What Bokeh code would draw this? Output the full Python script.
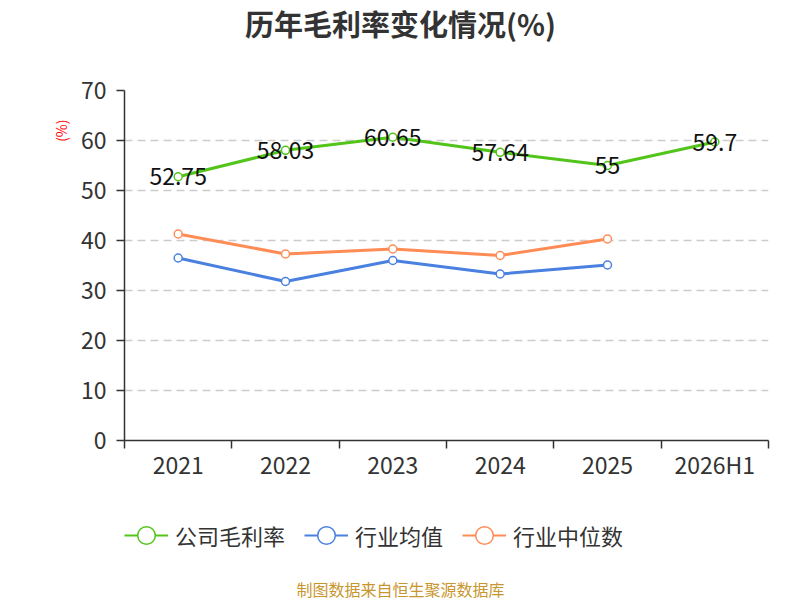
from bokeh.plotting import figure
from bokeh.models import (Range1d, FixedTicker, Legend, LegendItem, ColumnDataSource, Title, Label)
from bokeh.layouts import column
from bokeh.core.properties import value
from bokeh.embed import file_html
from bokeh.resources import INLINE

categories = ["2021", "2022", "2023", "2024", "2025", "2026H1"]
company = [52.75, 58.03, 60.65, 57.64, 55.0, 59.7]
company_labels = ["52.75", "58.03", "60.65", "57.64", "55", "59.7"]
industry_avg = [36.5, 31.8, 36.0, 33.3, 35.1]
industry_median = [41.3, 37.3, 38.3, 37.0, 40.3]
y_ticks = [0, 10, 20, 30, 40, 50, 60, 70]

title_text = "历年毛利率变化情况(%)"
source_text = "制图数据来自恒生聚源数据库"
series_names = ["公司毛利率", "行业均值", "行业中位数"]
colors = ["#52c41a", "#4a80e0", "#ff8c55"]

FONT = "Noto Sans CJK SC"

xs = [i + 0.5 for i in range(len(categories))]


def blank(h):
    f = figure(width=800, height=h, output_backend="svg", toolbar_location=None,
               x_range=Range1d(0, len(categories)), y_range=Range1d(0, 70),
               min_border_left=124, min_border_right=32, min_border_top=0,
               min_border_bottom=0)
    f.axis.visible = False
    f.grid.visible = False
    f.outline_line_color = None
    return f


# title figure
p0 = blank(50)
p0.add_layout(Label(x=276, y=28, x_units="screen", y_units="screen", text=title_text,
                    text_align="center", text_baseline="middle", text_font=FONT,
                    text_font_size="29px", text_font_style="bold", text_color="#333333"))

# main figure
p = figure(width=800, height=450, output_backend="svg", toolbar_location=None,
           x_range=Range1d(0, len(categories)), y_range=Range1d(0, 70),
           min_border_left=124, min_border_right=32, min_border_top=40,
           min_border_bottom=60)
p.outline_line_color = None
p.background_fill_color = "white"
p.border_fill_color = "white"

xa = p.xaxis[0]
xa.ticker = FixedTicker(ticks=xs, minor_ticks=list(range(len(categories) + 1)))
xa.major_label_overrides = {x: c for x, c in zip(xs, categories)}
xa.major_tick_out = 0
xa.major_tick_in = 0
xa.minor_tick_out = 8
xa.minor_tick_in = 0
xa.minor_tick_line_color = "#333333"
xa.minor_tick_line_width = 1.5
xa.axis_line_color = "#333333"
xa.axis_line_width = 1.5
xa.major_label_text_font = FONT
xa.major_label_text_font_size = "23px"
xa.major_label_text_color = "#333333"
xa.major_label_standoff = -2

ya = p.yaxis[0]
ya.ticker = FixedTicker(ticks=y_ticks, minor_ticks=[])
ya.major_tick_out = 8
ya.major_tick_in = 0
ya.major_tick_line_color = "#333333"
ya.major_tick_line_width = 1.5
ya.axis_line_color = "#333333"
ya.axis_line_width = 1.5
ya.major_label_text_font = FONT
ya.major_label_text_font_size = "23px"
ya.major_label_text_color = "#333333"
ya.major_label_standoff = 10

p.xgrid.visible = False
p.ygrid.ticker = FixedTicker(ticks=y_ticks[1:])
p.ygrid.grid_line_color = "#cccccc"
p.ygrid.grid_line_dash = "8 5"
p.ygrid.grid_line_width = 1.5

p.add_layout(Title(text="(%)", align="right", offset=29, standoff=14,
                   text_font=FONT, text_font_size="14px", text_font_style="normal",
                   text_color="#ff0000"), "left")

# legend / source figure
p2 = blank(100)

series = [(company, colors[0]), (industry_avg, colors[1]), (industry_median, colors[2])]
legend_items = []
for (vals, col), name in zip(series, series_names):
    xx = xs[:len(vals)]
    p.line(xx, vals, line_color=col, line_width=3)
    p.scatter(xx, vals, size=8, marker="circle", fill_color="white",
              line_color=col, line_width=1.5)
    dl = p2.line(xx, vals, line_color=col, line_width=2, visible=False)
    ds = p2.scatter(xx, vals, size=18, marker="circle", fill_color="white",
                    line_color=col, line_width=1.5, visible=False)
    legend_items.append(LegendItem(label=name, renderers=[dl, ds]))

src = ColumnDataSource(dict(x=xs, y=company, t=company_labels))
p.text(x="x", y="y", text="t", source=src, text_align="center",
       text_baseline="middle", text_font=value(FONT), text_font_size="23px",
       text_color="#111111")

legend = Legend(items=legend_items, orientation="horizontal", location=(0, 43),
                padding=0, margin=0, spacing=19, glyph_width=44, glyph_height=44,
                label_height=20, label_standoff=7, border_line_color=None,
                background_fill_alpha=0, label_text_font=FONT,
                label_text_font_size="22px", label_text_color="#333333")
p2.add_layout(legend, "center")

p2.add_layout(Label(x=276, y=12, x_units="screen", y_units="screen", text=source_text,
                    text_align="center", text_baseline="middle", text_font=FONT,
                    text_font_size="16px", text_color="#c8962e"))

open("out.html", "w").write(file_html(column(p0, p, p2, spacing=0), INLINE))
